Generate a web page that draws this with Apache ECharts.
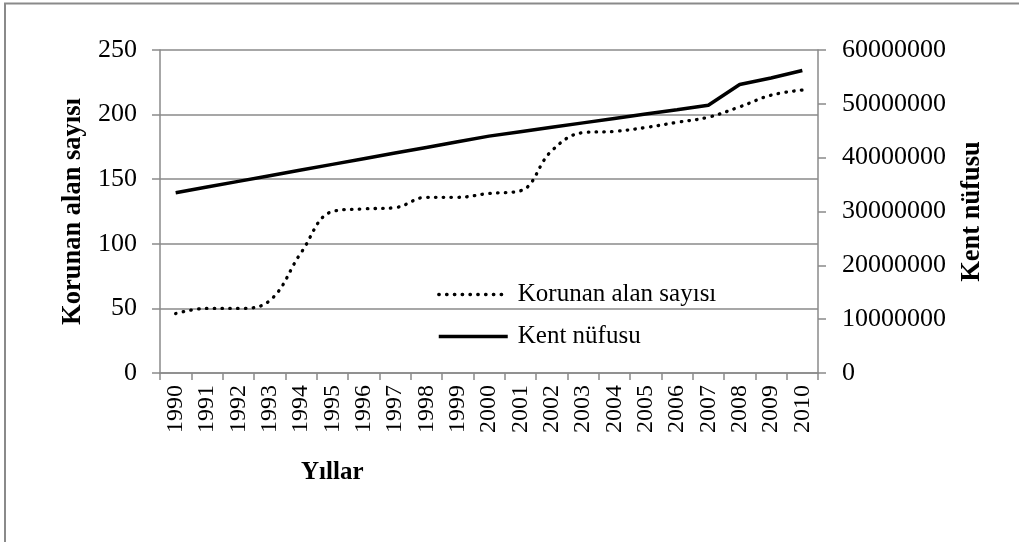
<!DOCTYPE html>
<html>
<head>
<meta charset="utf-8">
<script src="https://cdn.jsdelivr.net/npm/echarts@6/dist/echarts.min.js"></script>
<style>
  html, body { margin: 0; padding: 0; background: #fff; }
  #cont { width: 1019px; height: 542px; }
</style>
</head>
<body>
<div id="cont"></div>
<script>
var years = ['1990', '1991', '1992', '1993', '1994', '1995', '1996', '1997', '1998', '1999', '2000',
  '2001', '2002', '2003', '2004', '2005', '2006', '2007', '2008', '2009', '2010'];
// korunan alan sayisi (sol eksen)
var korunanAlan = [46, 50, 50, 56, 93, 125, 127, 128, 136, 136, 139, 141, 172, 186, 187, 190, 194, 198, 206, 215, 219];
// kent nufusu (sag eksen)
var kentNufusu = [33500000, 34550000, 35600000, 36650000, 37700000, 38750000, 39800000, 40850000, 41900000,
  42950000, 44000000, 44820000, 45640000, 46460000, 47280000, 48100000, 48920000, 49750000, 53600000,
  54800000, 56200000];
var leftTicks = [0, 250, 50];
var rightTicks = [0, 60000000, 10000000];

var serif = '"Liberation Serif", "DejaVu Serif", serif';
var gray = '#8a8a8a';

var myChart = echarts.init(document.getElementById('cont'));
var option = {
  animation: false,
  textStyle: { fontFamily: serif, color: '#000' },
  title: {
    text: 'Yıllar',
    left: 296,
    top: 455,
    textStyle: { fontFamily: serif, fontWeight: 'bold', fontSize: 25, color: '#000' }
  },
  legend: {
    orient: 'vertical',
    left: 432,
    top: 277,
    itemWidth: 69,
    itemHeight: 14,
    itemGap: 17,
    itemStyle: { opacity: 0 },
    lineStyle: { width: 'inherit' },
    textStyle: { fontFamily: serif, fontSize: 25, color: '#000', padding: [0, 0, 0, 5] },
    data: ['Korunan alan sayısı', 'Kent nüfusu']
  },
  grid: { left: 160, right: 201, top: 50, bottom: 169 },
  xAxis: {
    type: 'category',
    data: years,
    boundaryGap: true,
    axisLine: { lineStyle: { color: gray, width: 1.5 } },
    axisTick: { show: true, length: 7, alignWithLabel: false, lineStyle: { color: gray, width: 1.5 } },
    axisLabel: { rotate: 90, margin: 12, fontSize: 24, color: '#000', fontFamily: serif, interval: 0 }
  },
  yAxis: [
    {
      type: 'value',
      min: leftTicks[0],
      max: leftTicks[1],
      interval: leftTicks[2],
      name: 'Korunan alan sayısı',
      nameLocation: 'middle',
      nameRotate: 90,
      nameGap: 70,
      nameTextStyle: { fontFamily: serif, fontWeight: 'bold', fontSize: 26.5, color: '#000' },
      axisLine: { show: true, lineStyle: { color: gray, width: 1.5 } },
      axisTick: { show: true, length: 8, lineStyle: { color: gray, width: 1.5 } },
      axisLabel: { margin: 23, fontSize: 26, color: '#000', fontFamily: serif },
      splitLine: { show: true, lineStyle: { color: gray, width: 1.5 } }
    },
    {
      type: 'value',
      position: 'right',
      min: rightTicks[0],
      max: rightTicks[1],
      interval: rightTicks[2],
      name: 'Kent nüfusu',
      nameLocation: 'middle',
      nameRotate: 90,
      nameGap: 141,
      nameTextStyle: { fontFamily: serif, fontWeight: 'bold', fontSize: 26.5, color: '#000' },
      axisLine: { show: true, lineStyle: { color: gray, width: 1.5 } },
      axisTick: { show: true, length: 8, lineStyle: { color: gray, width: 1.5 } },
      axisLabel: {
        margin: 24, fontSize: 26, color: '#000', fontFamily: serif,
        formatter: function (v) { return String(v); }
      },
      splitLine: { show: false }
    }
  ],
  graphic: [
    {
      type: 'rect',
      shape: { x: 5, y: 3.5, width: 1030, height: 560 },
      style: { fill: 'none', stroke: gray, lineWidth: 2 },
      silent: true
    }
  ],
  series: [
    {
      name: 'Korunan alan sayısı',
      type: 'line',
      yAxisIndex: 0,
      data: korunanAlan,
      smooth: 0.4,
      symbol: 'none',
      lineStyle: { color: '#000', width: 3.3, type: [0.5, 7.3], cap: 'round' },
      itemStyle: { color: '#000' }
    },
    {
      name: 'Kent nüfusu',
      type: 'line',
      yAxisIndex: 1,
      data: kentNufusu,
      symbol: 'none',
      lineStyle: { color: '#000', width: 3.5 },
      itemStyle: { color: '#000' }
    }
  ]
};

myChart.setOption(option);
</script>
</body>
</html>
